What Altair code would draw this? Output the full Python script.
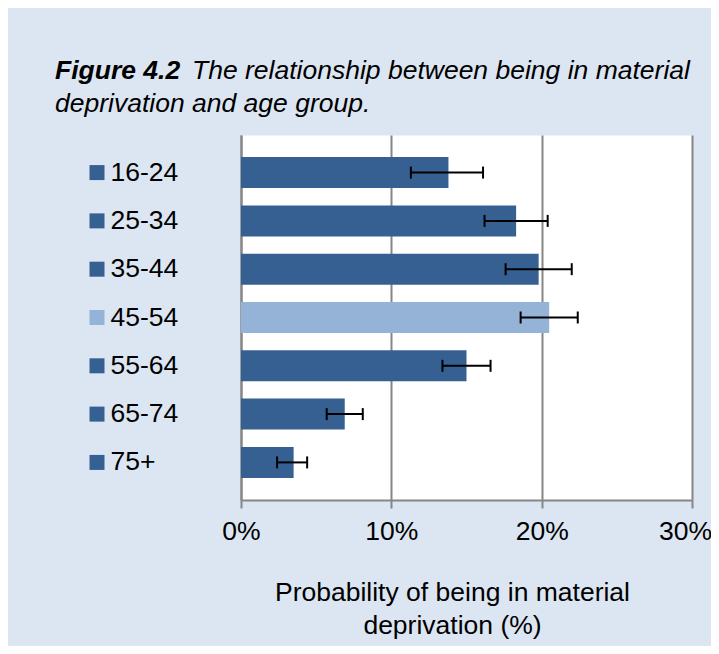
import altair as alt
import pandas as pd

# ---- data ----
ages = ["16-24", "25-34", "35-44", "45-54", "55-64", "65-74", "75+"]
values = [13.8, 18.3, 19.8, 20.5, 15.0, 6.9, 3.5]
err_low = [11.3, 16.2, 17.6, 18.6, 13.4, 5.7, 2.4]
err_high = [16.1, 20.4, 22.0, 22.4, 16.6, 8.1, 4.4]
bar_colors = ["#366092", "#366092", "#366092", "#95B3D7", "#366092", "#366092", "#366092"]
x_ticks = [0, 10, 20, 30]
title_bold = "Figure 4.2"
title_line1 = "The relationship between being in material"
title_line2 = "deprivation and age group."
x_title = ["Probability of being in material", "deprivation (%)"]

FONT = "Liberation Sans"
GRAY = "#868686"
BG = "#DCE6F2"

df = pd.DataFrame({"age": ages, "value": values, "lo": err_low, "hi": err_high})

y_scale = alt.Scale(paddingInner=0.358, paddingOuter=0.457)
y_axis = alt.Axis(title=None, ticks=False, tickSize=0,
                  labelAlign="left", labelPadding=131,
                  labelFont=FONT, labelFontSize=26.5,
                  labelColor="black", labelBaseline="middle",
                  domainColor=GRAY, domainWidth=2, grid=False)
y_enc = alt.Y("age:N", sort=ages, scale=y_scale, axis=y_axis)
color_enc = alt.Color("age:N", scale=alt.Scale(domain=ages, range=bar_colors), legend=None)

x_scale = alt.Scale(domain=[0, 30], nice=False)
x_axis = alt.Axis(values=x_ticks, labelExpr="datum.value + '%'",
                  grid=True, gridColor=GRAY, gridWidth=2,
                  domainColor=GRAY, domainWidth=2,
                  tickColor=GRAY, tickWidth=2, tickSize=8,
                  labelFont=FONT, labelFontSize=26.5, labelColor="black",
                  labelPadding=10, labelFlush=False, labelOverlap=False,
                  labelOffset={"condition": {"test": "datum.value == 30", "value": -7}, "value": 0},
                  title=x_title, titleFont=FONT, titleFontSize=26.5,
                  titleFontWeight="normal", titleColor="black",
                  titleX=211, titleY=100, titleBaseline="alphabetic",
                  titleAlign="center", titleLineHeight=33)

bars = alt.Chart(df).mark_bar().encode(
    x=alt.X("value:Q", scale=x_scale, axis=x_axis),
    y=y_enc,
    color=color_enc,
)

err_rule = alt.Chart(df).mark_rule(color="black", strokeWidth=2).encode(
    x=alt.X("lo:Q", scale=x_scale, axis=x_axis), x2="hi:Q", y=y_enc)
cap_lo = alt.Chart(df).mark_tick(color="black", thickness=2, size=12, opacity=1).encode(
    x=alt.X("lo:Q", scale=x_scale, axis=x_axis), y=y_enc)
cap_hi = alt.Chart(df).mark_tick(color="black", thickness=2, size=12, opacity=1).encode(
    x=alt.X("hi:Q", scale=x_scale, axis=x_axis), y=y_enc)

squares = alt.Chart(df).mark_square(size=225, opacity=1).encode(
    x=alt.value(-144), y=y_enc, color=color_enc)

tdf = pd.DataFrame({"a": [title_bold], "b": [title_line1], "c": [title_line2]})
t_bold = alt.Chart(tdf).mark_text(align="left", baseline="alphabetic", font=FONT,
                                  fontSize=26.5, fontStyle="italic", fontWeight="bold",
                                  color="black").encode(
    x=alt.value(-186), y=alt.value(-56), text="a:N")
t_l1 = alt.Chart(tdf).mark_text(align="left", baseline="alphabetic", font=FONT,
                                fontSize=26.5, fontStyle="italic", color="black").encode(
    x=alt.value(-49), y=alt.value(-56), text="b:N")
t_l2 = alt.Chart(tdf).mark_text(align="left", baseline="alphabetic", font=FONT,
                                fontSize=26.5, fontStyle="italic", color="black").encode(
    x=alt.value(-186), y=alt.value(-23), text="c:N")

chart = alt.layer(bars, err_rule, cap_lo, cap_hi, squares, t_bold, t_l1, t_l2).properties(
    width=451, height=365,
    background=BG,
    autosize=alt.AutoSizeParams(type="none"),
    padding={"left": 233, "top": 127, "right": 19, "bottom": 146},
).configure_view(fill="white", stroke="transparent")

chart.save("out.html", embed_options={"renderer": "svg", "actions": False})
